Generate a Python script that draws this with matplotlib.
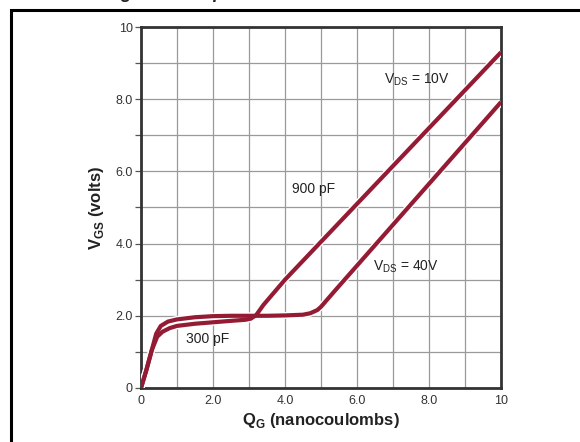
import matplotlib.pyplot as plt
from matplotlib.patches import Rectangle
from matplotlib.ticker import MultipleLocator

plt.rcParams["font.family"] = ["Liberation Sans", "DejaVu Sans"]
plt.rcParams["mathtext.fontset"] = "custom"
plt.rcParams["mathtext.rm"] = "Liberation Sans"
plt.rcParams["mathtext.bf"] = "Liberation Sans:bold"

# gate charge curves
qg_10v = [0, 0.15, 0.3, 0.45, 0.6, 0.8, 1.0, 1.5, 2.0, 2.5, 2.9, 3.05, 3.2,
          3.4, 3.7, 4.0, 10.0]
vgs_10v = [0, 0.5, 1.05, 1.42, 1.56, 1.66, 1.72, 1.78, 1.82, 1.86, 1.89,
           1.92, 2.02, 2.3, 2.65, 3.0, 9.3]
qg_40v = [0, 0.15, 0.3, 0.42, 0.55, 0.75, 1.0, 1.5, 2.0, 2.5, 3.0, 3.5, 4.0,
          4.5, 4.7, 4.9, 5.0, 5.4, 10.0]
vgs_40v = [0, 0.5, 1.05, 1.5, 1.72, 1.84, 1.9, 1.96, 1.99, 2.0, 2.0, 2.0,
           2.01, 2.03, 2.07, 2.16, 2.25, 2.71, 7.92]

xticks = [0, 2, 4, 6, 8, 10]
xtick_labels = ["0", "2.0", "4.0", "6.0", "8.0", "10"]
yticks = [0, 2, 4, 6, 8, 10]
ytick_labels = ["0", "2.0", "4.0", "6.0", "8.0", "10"]

curve_color = "#951b34"
text_color = "#222222"

fig = plt.figure(figsize=(5.8, 4.42), dpi=100)
ax = fig.add_axes([0.2431, 0.1222, 0.6207, 0.8167])

# outer box of the figure, cut off on the right and bottom
fig.patches.append(Rectangle((11 / 580, -0.1), 1.2, 1 - 10 / 442 + 0.1,
                             transform=fig.transFigure, fill=False,
                             edgecolor="black", linewidth=2.2))
# title of the figure above, only its lowest pixels are in view
fig.text(0.06, 1 + 1.5 / 442, "Gate Charge vs. Temperature", fontsize=13,
         fontweight="bold", style="italic", color=text_color, va="baseline")

for qg, vgs in [(qg_10v, vgs_10v), (qg_40v, vgs_40v)]:
    ax.plot(qg, vgs, color="white", linewidth=5.0, solid_capstyle="butt",
            zorder=3)
    ax.plot(qg, vgs, color=curve_color, linewidth=3.0, solid_capstyle="butt",
            zorder=4)

ax.set_xlim(0, 10)
ax.set_ylim(0, 10)
ax.set_xticks(xticks)
ax.set_xticklabels(xtick_labels)
ax.set_yticks(yticks)
ax.set_yticklabels(ytick_labels)
ax.xaxis.set_minor_locator(MultipleLocator(1))
ax.yaxis.set_minor_locator(MultipleLocator(1))
ax.grid(True, which="both", color="#9a9a9a", linewidth=0.9, zorder=1)
ax.set_axisbelow(True)
ax.tick_params(axis="x", which="both", length=0, pad=5, labelsize=9,
               labelcolor="#333333")
ax.tick_params(axis="y", which="both", length=4, width=0.9, pad=2,
               labelsize=9, labelcolor="#333333", color="#555555")
for spine in ax.spines.values():
    spine.set_linewidth(2.0)
    spine.set_color("#333333")

ax.set_xlabel(r"$\mathbf{Q}_{\mathbf{G}}$ (nanocoulombs)", fontsize=12,
              fontweight="bold", color=text_color, labelpad=3)
ax.set_ylabel(r"$\mathbf{V}_{\mathbf{GS}}$ (volts)", fontsize=12,
              fontweight="bold", color=text_color, labelpad=7)

ax.text(6.75, 8.55, r"V$_{\mathregular{DS}}$ = 10V", fontsize=10,
        color=text_color, va="center")
ax.text(6.45, 3.35, r"V$_{\mathregular{DS}}$ = 40V", fontsize=10,
        color=text_color, va="center")
ax.text(4.2, 5.5, "900 pF", fontsize=10, color=text_color, va="center")
ax.text(1.25, 1.37, "300 pF", fontsize=10, color=text_color, va="center")

fig.savefig("out.png", dpi=100)
